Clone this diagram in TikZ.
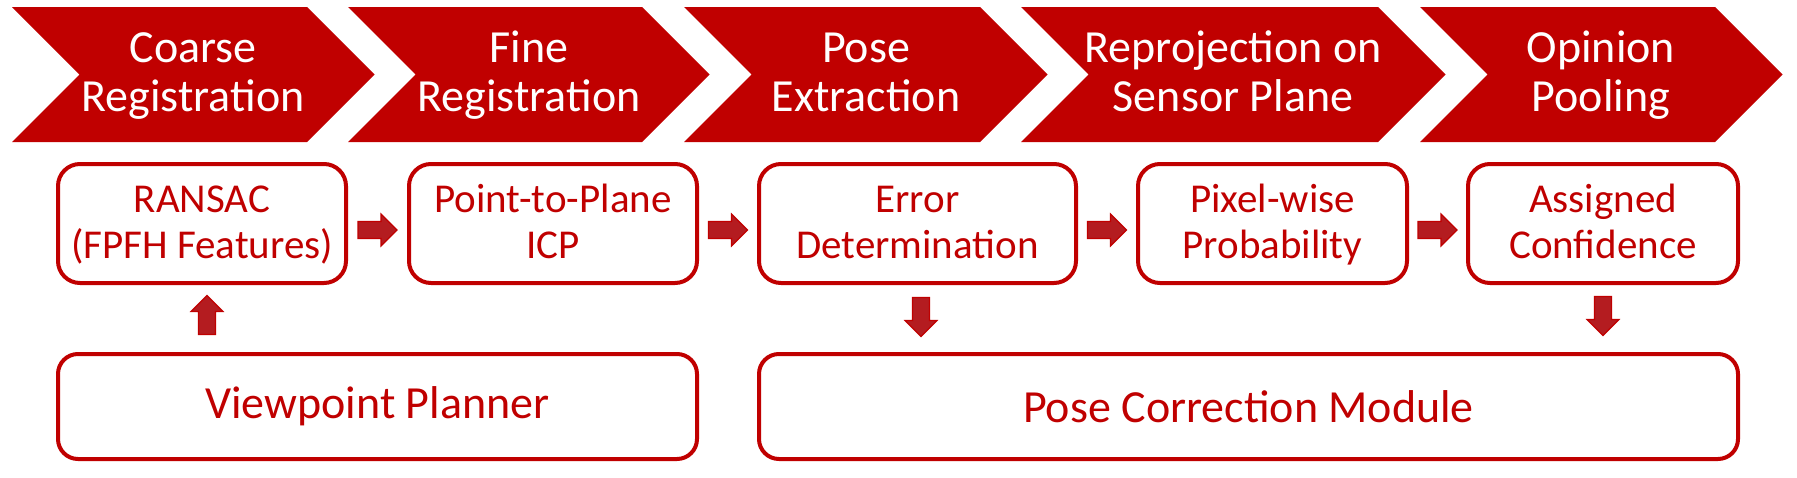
\documentclass[tikz,border=0pt]{standalone}
\usepackage{fontspec}
\setmainfont{Carlito}
\usetikzlibrary{calc}
\definecolor{dred}{RGB}{192,0,0}
\definecolor{afill}{RGB}{180,28,32}
\newcommand\hdr[2]{\rule{0pt}{32pt}#1\\#2\rule[-10pt]{0pt}{10pt}}
\newcommand\bxt[2]{\rule{0pt}{33pt}#1\\#2\rule[-9pt]{0pt}{9pt}}
\newcommand\chevron[2]{\fill[chev] (#1,7) -- (#2,7) -- ({#2+67.5},74.5) -- (#2,142) -- (#1,142) -- ({#1+67.5},74.5) -- cycle;}
\newcommand\rarrow[1]{\path[blockarrow] #1 ++(-19.5,-8.5) -- ++(23,0) -- ++(0,-7.5) -- ++(16,16) -- ++(-16,16) -- ++(0,-7.5) -- ++(-23,0) -- cycle;}
\newcommand\uarrow[1]{\path[blockarrow] #1 ++(-8.5,19.5) -- ++(0,-23) -- ++(-7.5,0) -- ++(16,-16) -- ++(16,16) -- ++(-7.5,0) -- ++(0,23) -- cycle;}
\newcommand\darrow[1]{\path[blockarrow] #1 ++(-8.5,-19.5) -- ++(0,23) -- ++(-7.5,0) -- ++(16,16) -- ++(16,-16) -- ++(-7.5,0) -- ++(0,-23) -- cycle;}
\begin{document}
\begin{tikzpicture}[x=1pt,y=-1pt,
  chev/.style={fill=dred},
  hdrtext/.style={text=white,font=\fontsize{46}{49}\selectfont,align=center,inner sep=0pt},
  stage/.style={draw=dred,line width=4pt,rounded corners=22pt,fill=white,text=dred,font=\fontsize{41}{45.5}\selectfont,align=center,inner sep=0pt,outer sep=0pt,minimum height=119pt},
  module/.style={draw=dred,line width=4pt,rounded corners=20pt,fill=white,text=dred,font=\fontsize{46}{50}\selectfont,align=center,inner sep=0pt,outer sep=0pt,minimum height=105pt},
  blockarrow/.style={fill=afill,draw=dred,line width=1.2pt,line join=miter}
]
\fill[white] (0,0) rectangle (1797,477);
\useasboundingbox (0,0) rectangle (1797,477);
% header chevrons
\chevron{12}{307}
\chevron{348}{642}
\chevron{684}{980}
\chevron{1021}{1378}
\chevron{1420}{1715}
\node[hdrtext] (h1) at (193,75.5) {\hdr{Coarse}{Registration}};
\node[hdrtext] (h2) at (529,75.5) {\hdr{Fine}{Registration}};
\node[hdrtext] (h3) at (866,75.5) {\hdr{Pose}{Extraction}};
\node[hdrtext] (h4) at (1233,75.5) {\hdr{Reprojection on}{Sensor Plane}};
\node[hdrtext] (h5) at (1601,75.5) {\hdr{Opinion}{Pooling}};
% stage boxes
\node[stage,minimum width=288pt] (b1) at (202,223.5) {\bxt{RANSAC}{(FPFH Features)}};
\node[stage,minimum width=288pt] (b2) at (553,223.5) {\bxt{Point-to-Plane}{ICP}};
\node[stage,minimum width=317pt] (b3) at (917.5,223.5) {\bxt{Error}{Determination}};
\node[stage,minimum width=269pt] (b4) at (1272.5,223.5) {\bxt{Pixel-wise}{Probability}};
\node[stage,minimum width=270pt] (b5) at (1603,223.5) {\bxt{Assigned}{Confidence}};
% modules
\node[module,minimum width=639pt] (p1) at (377.5,406.5) {Viewpoint Planner};
\node[module,minimum width=979pt] (p2) at (1248.5,406.5) {Pose Correction Module};
% block arrows
\rarrow{($(b1.east)!0.5!(b2.west)+(0,6.5)$)}
\rarrow{($(b2.east)!0.5!(b3.west)+(0,6.5)$)}
\rarrow{($(b3.east)!0.5!(b4.west)+(0,6.5)$)}
\rarrow{($(b4.east)!0.5!(b5.west)+(0,6.5)$)}
\uarrow{($(b1.south)+(5,32)$)}
\darrow{($(b3.south)+(3.5,34)$)}
\darrow{($(b5.south)+(0,33)$)}
\end{tikzpicture}
\end{document}
